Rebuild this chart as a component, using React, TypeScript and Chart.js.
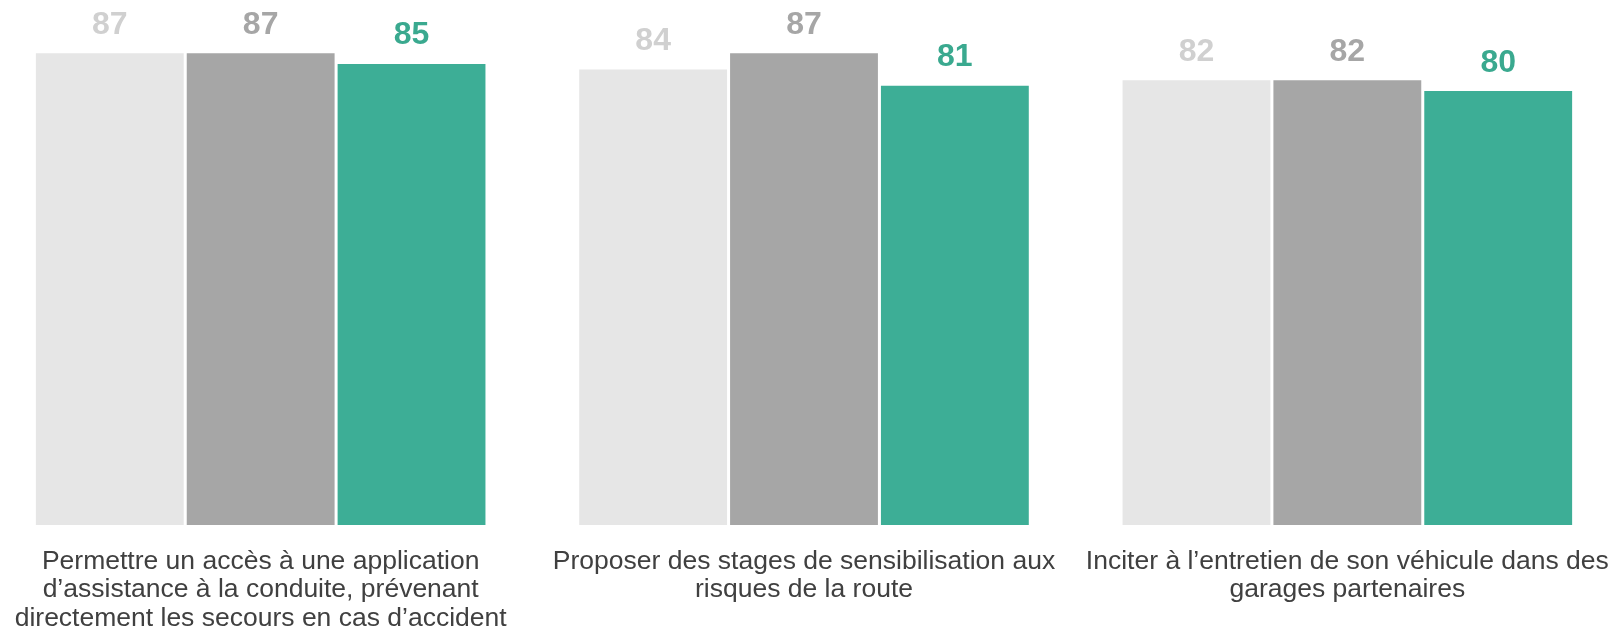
import React, { useEffect, useRef } from "react";
import { Chart, registerables } from "chart.js";

Chart.register(...registerables);

const categories: string[][] = [
  ["Permettre un accès à une application", "d’assistance à la conduite, prévenant", "directement les secours en cas d’accident"],
  ["Proposer des stages de sensibilisation aux", "risques de la route"],
  ["Inciter à l’entretien de son véhicule dans des", "garages partenaires"],
];

const seriesNames = ["Vague 1", "Vague 2", "Vague 3"];
const series1 = [87, 84, 82];
const series2 = [87, 87, 82];
const series3 = [85, 81, 80];

const barColors = ["#E6E6E6", "#A6A6A6", "#3DAE96"];
const labelColors = ["#D0D0D0", "#A6A6A6", "#3AA98F"];

const valueLabels = {
  id: "valueLabels",
  afterDatasetsDraw(chart: any) {
    const ctx = chart.ctx;
    ctx.save();
    ctx.font = "bold 32px 'Liberation Sans', Arial, sans-serif";
    ctx.textAlign = "center";
    ctx.textBaseline = "alphabetic";
    chart.data.datasets.forEach((ds: any, di: number) => {
      const meta = chart.getDatasetMeta(di);
      meta.data.forEach((bar: any, i: number) => {
        ctx.fillStyle = labelColors[di];
        ctx.fillText(String(ds.data[i]), bar.x, bar.y - 19.5);
      });
    });
    ctx.restore();
  },
};

export default function App() {
  const ref = useRef<HTMLCanvasElement>(null);
  useEffect(() => {
    document.documentElement.style.overflow = "hidden";
    document.body.style.overflow = "hidden";
    const chart = new Chart(ref.current!, {
      type: "bar",
      data: {
        labels: categories,
        datasets: [series1, series2, series3].map((d, i) => ({
          label: seriesNames[i],
          data: d,
          backgroundColor: barColors[i],
          borderWidth: 0,
          categoryPercentage: 0.833,
          barPercentage: 0.98,
        })),
      },
      options: {
        animation: false,
        responsive: false,
        maintainAspectRatio: false,
        layout: { padding: 0, autoPadding: false },
        plugins: { legend: { display: false }, tooltip: { enabled: false } },
        scales: {
          x: {
            grid: { display: false, drawTicks: false },
            border: { display: false },
            ticks: {
              color: "#404040",
              font: { family: "'Liberation Sans', Arial, sans-serif", size: 26.5, lineHeight: 1.075 },
              padding: 22,
              maxRotation: 0,
              minRotation: 0,
              autoSkip: false,
            },
            afterFit: (scale: any) => {
              scale.height = 108;
              scale.paddingLeft = 0;
              scale.paddingRight = 0;
            },
          },
          y: {
            display: false,
            min: 0,
            max: 96.8,
          },
        },
      },
      plugins: [valueLabels],
    });
    return () => chart.destroy();
  }, []);
  return (
    <div style={{ position: "absolute", left: -11, top: 0, width: 1630, height: 633 }}>
      <canvas ref={ref} width={1630} height={633} style={{ display: "block" }} />
    </div>
  );
}
